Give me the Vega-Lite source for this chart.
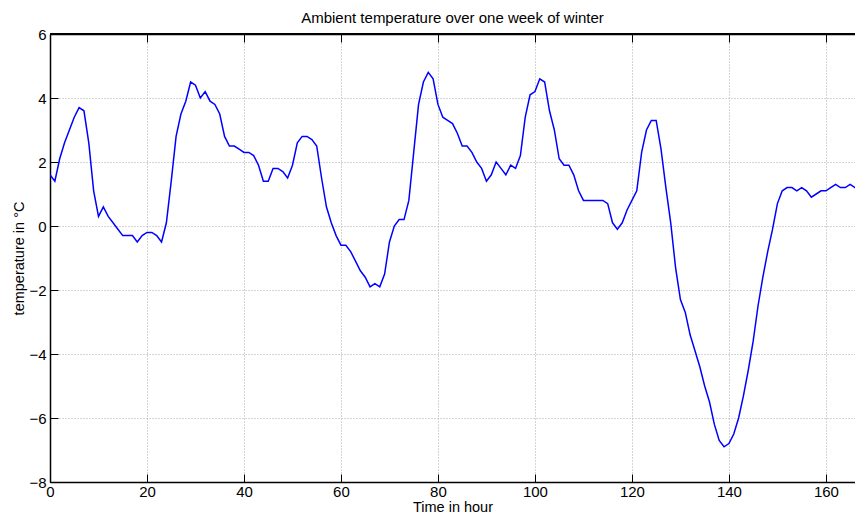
{
  "$schema": "https://vega.github.io/schema/vega-lite/v6.json",
  "width": 805,
  "height": 448,
  "autosize": {"type": "none"},
  "padding": {"left": 50, "top": 34, "right": 0, "bottom": 34},
  "title": {
    "text": "Ambient temperature over one week of winter",
    "font": "Liberation Sans",
    "fontSize": 15,
    "fontWeight": "normal",
    "color": "#000000",
    "offset": 1,
    "anchor": "middle"
  },
  "data": {
    "values": [
      {"hour": 0, "temp": 1.6}, {"hour": 1, "temp": 1.4}, {"hour": 2, "temp": 2.1}, {"hour": 3, "temp": 2.6},
      {"hour": 4, "temp": 3.0}, {"hour": 5, "temp": 3.4}, {"hour": 6, "temp": 3.7}, {"hour": 7, "temp": 3.6},
      {"hour": 8, "temp": 2.6}, {"hour": 9, "temp": 1.1}, {"hour": 10, "temp": 0.3}, {"hour": 11, "temp": 0.6},
      {"hour": 12, "temp": 0.3}, {"hour": 13, "temp": 0.1}, {"hour": 14, "temp": -0.1}, {"hour": 15, "temp": -0.3},
      {"hour": 16, "temp": -0.3}, {"hour": 17, "temp": -0.3}, {"hour": 18, "temp": -0.5}, {"hour": 19, "temp": -0.3},
      {"hour": 20, "temp": -0.2}, {"hour": 21, "temp": -0.2}, {"hour": 22, "temp": -0.3}, {"hour": 23, "temp": -0.5},
      {"hour": 24, "temp": 0.1}, {"hour": 25, "temp": 1.4}, {"hour": 26, "temp": 2.8}, {"hour": 27, "temp": 3.5},
      {"hour": 28, "temp": 3.9}, {"hour": 29, "temp": 4.5}, {"hour": 30, "temp": 4.4}, {"hour": 31, "temp": 4.0},
      {"hour": 32, "temp": 4.2}, {"hour": 33, "temp": 3.9}, {"hour": 34, "temp": 3.8}, {"hour": 35, "temp": 3.5},
      {"hour": 36, "temp": 2.8}, {"hour": 37, "temp": 2.5}, {"hour": 38, "temp": 2.5}, {"hour": 39, "temp": 2.4},
      {"hour": 40, "temp": 2.3}, {"hour": 41, "temp": 2.3}, {"hour": 42, "temp": 2.2}, {"hour": 43, "temp": 1.9},
      {"hour": 44, "temp": 1.4}, {"hour": 45, "temp": 1.4}, {"hour": 46, "temp": 1.8}, {"hour": 47, "temp": 1.8},
      {"hour": 48, "temp": 1.7}, {"hour": 49, "temp": 1.5}, {"hour": 50, "temp": 1.9}, {"hour": 51, "temp": 2.6},
      {"hour": 52, "temp": 2.8}, {"hour": 53, "temp": 2.8}, {"hour": 54, "temp": 2.7}, {"hour": 55, "temp": 2.5},
      {"hour": 56, "temp": 1.5}, {"hour": 57, "temp": 0.6}, {"hour": 58, "temp": 0.1}, {"hour": 59, "temp": -0.3},
      {"hour": 60, "temp": -0.6}, {"hour": 61, "temp": -0.6}, {"hour": 62, "temp": -0.8}, {"hour": 63, "temp": -1.1},
      {"hour": 64, "temp": -1.4}, {"hour": 65, "temp": -1.6}, {"hour": 66, "temp": -1.9}, {"hour": 67, "temp": -1.8},
      {"hour": 68, "temp": -1.9}, {"hour": 69, "temp": -1.5}, {"hour": 70, "temp": -0.5}, {"hour": 71, "temp": 0.0},
      {"hour": 72, "temp": 0.2}, {"hour": 73, "temp": 0.2}, {"hour": 74, "temp": 0.8}, {"hour": 75, "temp": 2.3},
      {"hour": 76, "temp": 3.8}, {"hour": 77, "temp": 4.5}, {"hour": 78, "temp": 4.8}, {"hour": 79, "temp": 4.6},
      {"hour": 80, "temp": 3.8}, {"hour": 81, "temp": 3.4}, {"hour": 82, "temp": 3.3}, {"hour": 83, "temp": 3.2},
      {"hour": 84, "temp": 2.9}, {"hour": 85, "temp": 2.5}, {"hour": 86, "temp": 2.5}, {"hour": 87, "temp": 2.3},
      {"hour": 88, "temp": 2.0}, {"hour": 89, "temp": 1.8}, {"hour": 90, "temp": 1.4}, {"hour": 91, "temp": 1.6},
      {"hour": 92, "temp": 2.0}, {"hour": 93, "temp": 1.8}, {"hour": 94, "temp": 1.6}, {"hour": 95, "temp": 1.9},
      {"hour": 96, "temp": 1.8}, {"hour": 97, "temp": 2.2}, {"hour": 98, "temp": 3.4}, {"hour": 99, "temp": 4.1},
      {"hour": 100, "temp": 4.2}, {"hour": 101, "temp": 4.6}, {"hour": 102, "temp": 4.5}, {"hour": 103, "temp": 3.6},
      {"hour": 104, "temp": 3.0}, {"hour": 105, "temp": 2.1}, {"hour": 106, "temp": 1.9}, {"hour": 107, "temp": 1.9},
      {"hour": 108, "temp": 1.6}, {"hour": 109, "temp": 1.1}, {"hour": 110, "temp": 0.8}, {"hour": 111, "temp": 0.8},
      {"hour": 112, "temp": 0.8}, {"hour": 113, "temp": 0.8}, {"hour": 114, "temp": 0.8}, {"hour": 115, "temp": 0.7},
      {"hour": 116, "temp": 0.1}, {"hour": 117, "temp": -0.1}, {"hour": 118, "temp": 0.1}, {"hour": 119, "temp": 0.5},
      {"hour": 120, "temp": 0.8}, {"hour": 121, "temp": 1.1}, {"hour": 122, "temp": 2.3}, {"hour": 123, "temp": 3.0},
      {"hour": 124, "temp": 3.3}, {"hour": 125, "temp": 3.3}, {"hour": 126, "temp": 2.4}, {"hour": 127, "temp": 1.2},
      {"hour": 128, "temp": 0.1}, {"hour": 129, "temp": -1.3}, {"hour": 130, "temp": -2.3}, {"hour": 131, "temp": -2.7},
      {"hour": 132, "temp": -3.4}, {"hour": 133, "temp": -3.9}, {"hour": 134, "temp": -4.4}, {"hour": 135, "temp": -5.0},
      {"hour": 136, "temp": -5.5}, {"hour": 137, "temp": -6.2}, {"hour": 138, "temp": -6.7}, {"hour": 139, "temp": -6.9},
      {"hour": 140, "temp": -6.8}, {"hour": 141, "temp": -6.5}, {"hour": 142, "temp": -6.0}, {"hour": 143, "temp": -5.3},
      {"hour": 144, "temp": -4.5}, {"hour": 145, "temp": -3.6}, {"hour": 146, "temp": -2.5}, {"hour": 147, "temp": -1.6},
      {"hour": 148, "temp": -0.8}, {"hour": 149, "temp": -0.1}, {"hour": 150, "temp": 0.7}, {"hour": 151, "temp": 1.1},
      {"hour": 152, "temp": 1.2}, {"hour": 153, "temp": 1.2}, {"hour": 154, "temp": 1.1}, {"hour": 155, "temp": 1.2},
      {"hour": 156, "temp": 1.1}, {"hour": 157, "temp": 0.9}, {"hour": 158, "temp": 1.0}, {"hour": 159, "temp": 1.1},
      {"hour": 160, "temp": 1.1}, {"hour": 161, "temp": 1.2}, {"hour": 162, "temp": 1.3}, {"hour": 163, "temp": 1.2},
      {"hour": 164, "temp": 1.2}, {"hour": 165, "temp": 1.3}, {"hour": 166, "temp": 1.2}, {"hour": 167, "temp": 1.3}
    ]
  },
  "layer": [
    {
      "mark": {"type": "line", "color": "#0000ff", "strokeWidth": 1.5, "clip": true},
      "encoding": {
        "x": {
          "field": "hour",
          "type": "quantitative",
          "scale": {"domain": [0, 166], "nice": false, "zero": false},
          "axis": {
            "title": "Time in hour",
            "values": [0, 20, 40, 60, 80, 100, 120, 140, 160],
            "titlePadding": 1
          }
        },
        "y": {
          "field": "temp",
          "type": "quantitative",
          "scale": {"domain": [-8, 6], "nice": false, "zero": false},
          "axis": {
            "title": "temperature in °C",
            "values": [-8, -6, -4, -2, 0, 2, 4, 6],
            "titlePadding": 2
          }
        }
      }
    },
    {
      "mark": {"type": "rule", "color": "#000000", "strokeWidth": 1.5},
      "encoding": {
        "x": {
          "datum": 0,
          "type": "quantitative",
          "axis": {
            "orient": "top",
            "title": null,
            "labels": false,
            "grid": false,
            "values": [0, 20, 40, 60, 80, 100, 120, 140, 160]
          }
        },
        "x2": {"datum": 166},
        "y": {"datum": 6, "type": "quantitative"}
      }
    }
  ],
  "resolve": {"axis": {"x": "independent"}},
  "config": {
    "view": {"stroke": null},
    "axis": {
      "domainColor": "#000000",
      "domainWidth": 1.5,
      "tickColor": "#000000",
      "tickSize": -8,
      "tickWidth": 1,
      "labelFont": "Liberation Sans",
      "labelFontSize": 15,
      "labelColor": "#000000",
      "labelFlush": false,
      "labelOverlap": false,
      "titleFont": "Liberation Sans",
      "titleFontSize": 14.5,
      "titleFontWeight": "normal",
      "titleColor": "#000000",
      "grid": true,
      "gridColor": "#aaaaaa",
      "gridDash": [1, 2],
      "gridWidth": 1
    },
    "axisX": {"labelPadding": 10},
    "axisY": {"labelPadding": 12}
  }
}
